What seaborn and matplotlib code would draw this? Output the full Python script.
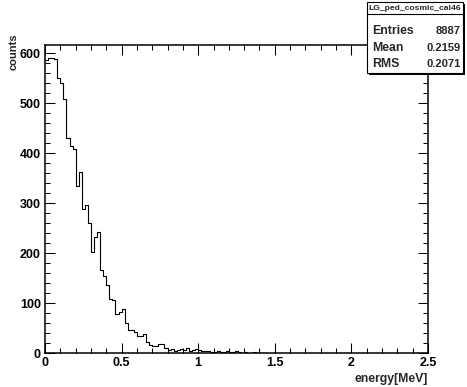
import matplotlib
matplotlib.use("Agg")
import matplotlib.pyplot as plt
import seaborn as sns
import numpy as np
import pandas as pd
from matplotlib.patches import Rectangle
from matplotlib.lines import Line2D
from matplotlib.ticker import MultipleLocator

# histogram definition: 125 bins from 0 to 2.5 MeV
n_bins = 125
x_range = (0, 2.5)
counts = [586, 590, 590, 589, 551, 541, 509, 431, 414, 408,
          334, 363, 288, 297, 261, 203, 233, 243, 167, 155,
          137, 109, 106, 79, 83, 89, 61, 47, 47, 43,
          34, 34, 39, 23, 16, 14, 14, 18, 18, 11,
          6, 8, 5, 7, 9, 6, 10, 5, 7, 9,
          6, 5, 4, 5, 3, 3, 4, 3, 3, 4,
          3, 3, 4, 2, 1, 2, 0, 1, 2, 1,
          0, 1, 1, 0, 1, 0, 0, 1, 1, 0,
          1, 0, 0, 1, 0, 0, 1, 1, 0, 0,
          1, 0, 0, 0, 1, 0, 0, 0, 0, 1,
          1, 0, 0, 0, 0, 0, 0, 1, 0, 0,
          0, 0, 0, 0, 0, 0, 0, 0, 0, 0,
          0, 0, 0, 0, 0]
bin_edges = np.linspace(x_range[0], x_range[1], n_bins + 1)
bin_centers = (bin_edges[:-1] + bin_edges[1:]) / 2

hist_name = "LG_ped_cosmic_cal46"
stat_names = ["Entries", "Mean", "RMS"]
stat_values = ["8887", "0.2159", "0.2071"]

df = pd.DataFrame({"energy": bin_centers, "counts": counts})

sns.set_style("ticks")
plt.rcParams["font.family"] = ["Liberation Sans", "DejaVu Sans"]
plt.rcParams["font.weight"] = "bold"

W, H = 467, 387
fig = plt.figure(figsize=(W / 100, H / 100), dpi=100)
fig.patch.set_facecolor("white")

# axes frame in pixels: left 45, right 428, top 45, bottom 353
ax = fig.add_axes([45 / W, 1 - 353 / H, (428 - 45) / W, (353 - 45) / H])

sns.histplot(data=df, x="energy", weights="counts", bins=n_bins, binrange=x_range,
             element="step", fill=False, color="black", linewidth=0.8, ax=ax)

ax.set_xlim(0, 2.5)
ax.set_ylim(0, 616)
ax.set_xlabel("")
ax.set_ylabel("")

ax.xaxis.set_major_locator(MultipleLocator(0.5))
ax.xaxis.set_minor_locator(MultipleLocator(0.1))
ax.yaxis.set_major_locator(MultipleLocator(100))
ax.yaxis.set_minor_locator(MultipleLocator(20))
ax.xaxis.set_major_formatter(matplotlib.ticker.FuncFormatter(lambda v, p: f"{v:g}"))

ax.tick_params(which="both", direction="in", top=True, right=True, width=0.75, colors="black")
ax.tick_params(which="major", length=7.5, labelsize=9, pad=3)
ax.tick_params(which="minor", length=3.8)
for lab in ax.get_xticklabels() + ax.get_yticklabels():
    lab.set_fontweight("bold")
for sp in ax.spines.values():
    sp.set_visible(True)
    sp.set_linewidth(1.1)
    sp.set_color("black")

fig.text(14 / W, 1 - 33 / H, "counts", rotation=90, ha="center", va="top",
         fontsize=8, fontweight="bold")
fig.text(428 / W, 1 - 379 / H, "energy[MeV]", ha="right", va="center",
         fontsize=8.8, fontweight="bold")

# stats box
bx0, bx1, by0, by1 = 367, 463, 2, 73
def fx(px):
    return px / W
def fy(py):
    return 1 - py / H

fig.patches.append(Rectangle((fx(bx0 + 2), fy(by1 + 2)), fx(bx1 - bx0), fy(by0) - fy(by1),
                             transform=fig.transFigure, facecolor="black",
                             edgecolor="black", linewidth=0, zorder=5))
fig.patches.append(Rectangle((fx(bx0), fy(by1)), fx(bx1 - bx0), fy(by0) - fy(by1),
                             transform=fig.transFigure, facecolor="white",
                             edgecolor="black", linewidth=0.8, zorder=6))
fig.lines.append(Line2D([fx(bx0), fx(bx1)], [fy(14), fy(14)], transform=fig.transFigure,
                        color="black", linewidth=0.8, zorder=7))
fig.text(fx((bx0 + bx1) / 2), fy(8), hist_name, ha="center", va="center",
         fontsize=6.1, fontweight="bold", zorder=8)
row_y = [31, 48, 64]
for name, val, ry in zip(stat_names, stat_values, row_y):
    fig.text(fx(372), fy(ry), name, ha="left", va="center", fontsize=8.8,
             fontweight="bold", zorder=8)
    fig.text(fx(461), fy(ry), val, ha="right", va="center", fontsize=8,
             fontweight="bold", zorder=8)

fig.savefig("out.png", dpi=100, facecolor="white")
